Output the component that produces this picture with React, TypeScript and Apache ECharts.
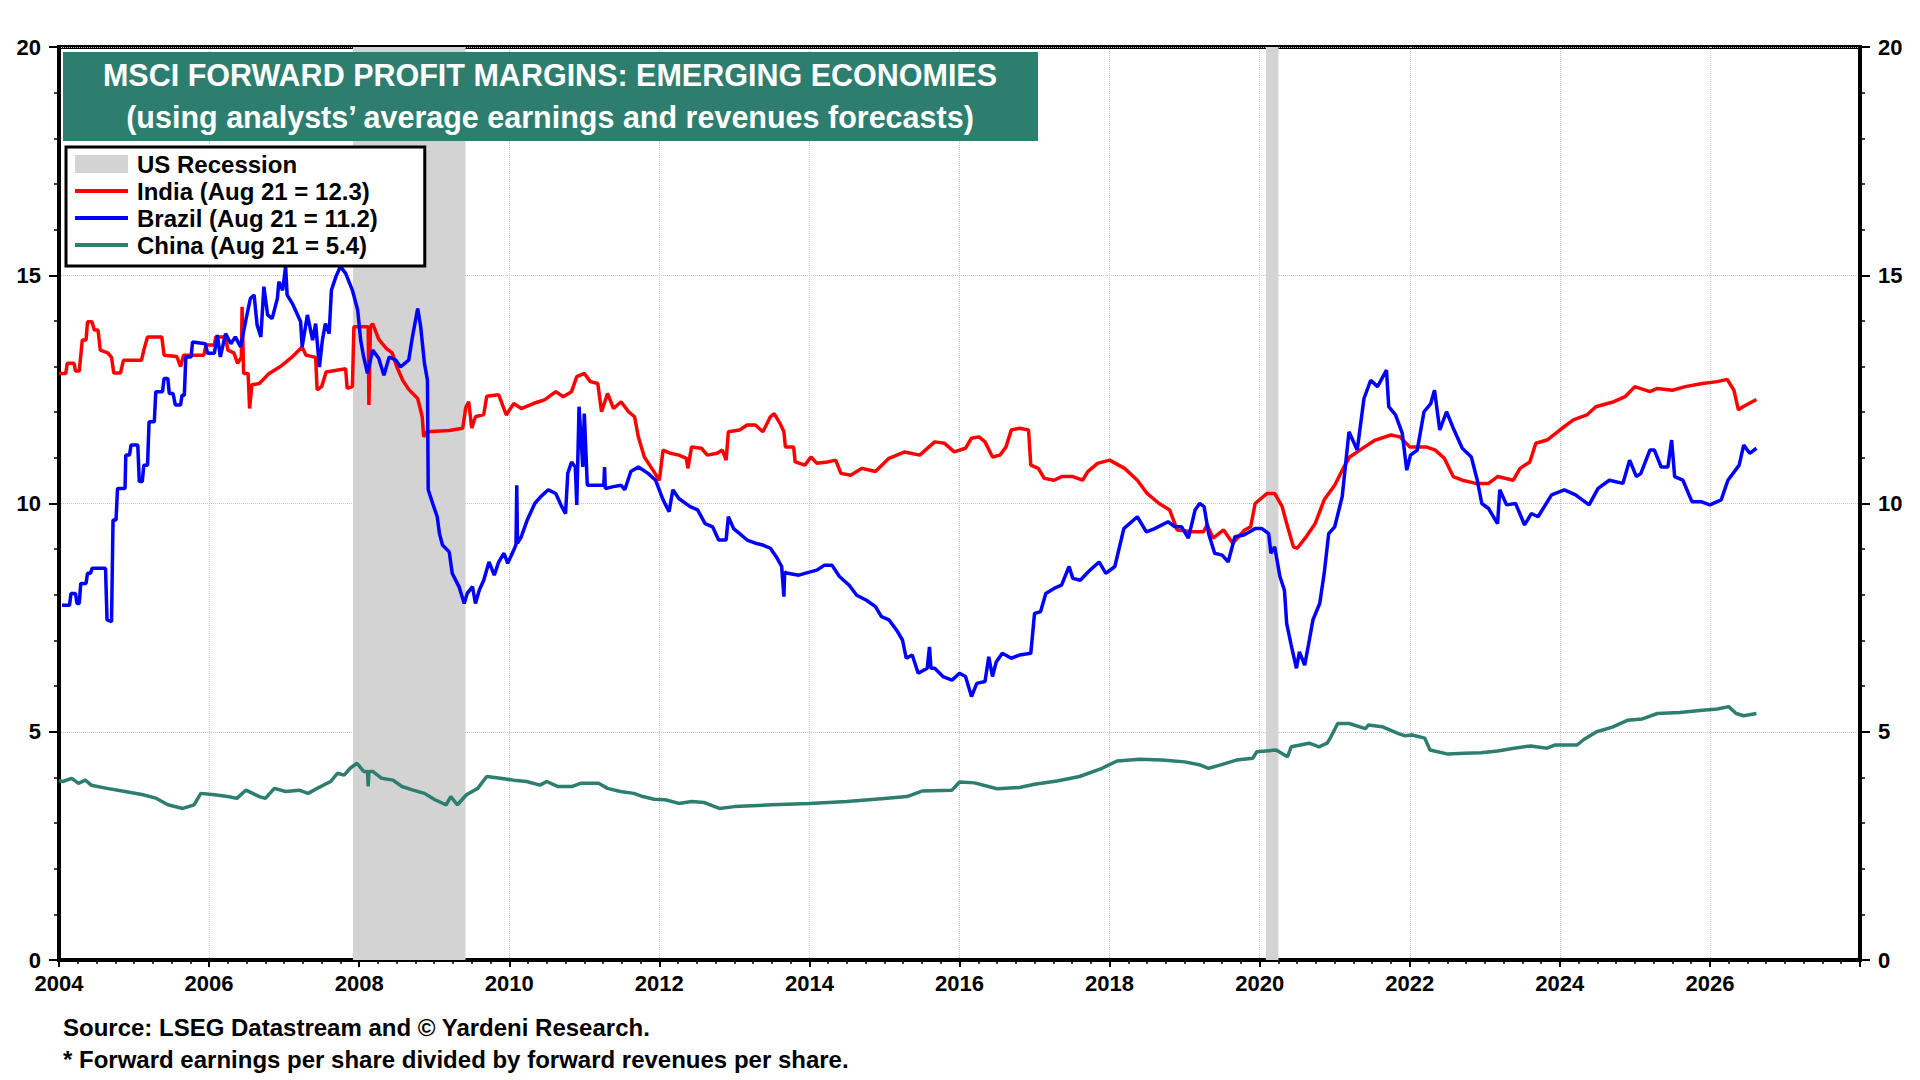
import { useEffect, useRef } from "react";
import * as echarts from "echarts";

const FONT = '"Liberation Sans", Arial, sans-serif';
const TEAL = "#2e7e6f";

// [decimal year, forward profit margin %]
const india: number[][] = [
  [2004.0, 12.85], [2004.09, 12.85], [2004.11, 13.07], [2004.2, 13.07], [2004.22, 12.9], [2004.27, 12.9],
  [2004.31, 13.58], [2004.36, 13.58], [2004.38, 13.98], [2004.44, 13.98], [2004.47, 13.8], [2004.52, 13.8],
  [2004.55, 13.36], [2004.65, 13.3], [2004.7, 13.2], [2004.73, 12.86], [2004.82, 12.86], [2004.86, 13.14],
  [2005.1, 13.14], [2005.13, 13.36], [2005.18, 13.65], [2005.37, 13.65], [2005.4, 13.25], [2005.57, 13.22],
  [2005.62, 13.0], [2005.66, 13.25], [2005.93, 13.25], [2005.96, 13.47], [2006.07, 13.47], [2006.09, 13.65],
  [2006.22, 13.65], [2006.25, 13.36], [2006.33, 13.3], [2006.38, 13.07], [2006.43, 13.2], [2006.44, 14.31],
  [2006.46, 12.85], [2006.52, 12.85], [2006.54, 12.08], [2006.57, 12.6], [2006.67, 12.63], [2006.8, 12.85],
  [2006.95, 13.0], [2007.1, 13.2], [2007.24, 13.43], [2007.29, 13.25], [2007.42, 13.2], [2007.44, 12.49],
  [2007.5, 12.56], [2007.56, 12.88], [2007.82, 12.95], [2007.84, 12.52], [2007.91, 12.56], [2007.93, 13.87],
  [2008.12, 13.87], [2008.13, 12.16], [2008.15, 13.87], [2008.18, 13.94], [2008.26, 13.6], [2008.36, 13.4],
  [2008.44, 13.3], [2008.5, 13.0], [2008.58, 12.7], [2008.66, 12.5], [2008.78, 12.3], [2008.84, 11.9],
  [2008.86, 11.46], [2008.9, 11.57], [2009.2, 11.6], [2009.38, 11.65], [2009.42, 12.1], [2009.46, 12.23],
  [2009.5, 11.65], [2009.55, 11.9], [2009.66, 11.95], [2009.7, 12.35], [2009.86, 12.38], [2009.96, 11.94],
  [2010.06, 12.19], [2010.16, 12.08], [2010.32, 12.19], [2010.47, 12.27], [2010.62, 12.45], [2010.72, 12.34],
  [2010.83, 12.45], [2010.9, 12.78], [2011.0, 12.85], [2011.08, 12.67], [2011.18, 12.63], [2011.23, 12.01],
  [2011.31, 12.41], [2011.39, 12.08], [2011.49, 12.23], [2011.59, 12.01], [2011.67, 11.9], [2011.72, 11.46],
  [2011.8, 11.02], [2011.9, 10.77], [2012.0, 10.51], [2012.05, 11.17], [2012.15, 11.1], [2012.26, 11.06],
  [2012.36, 10.99], [2012.38, 10.77], [2012.43, 11.24], [2012.56, 11.21], [2012.64, 11.06], [2012.77, 11.1],
  [2012.84, 11.17], [2012.89, 10.95], [2012.92, 11.57], [2013.07, 11.61], [2013.17, 11.72], [2013.28, 11.72],
  [2013.38, 11.57], [2013.48, 11.9], [2013.53, 11.97], [2013.61, 11.75], [2013.66, 11.57], [2013.68, 11.24],
  [2013.79, 11.24], [2013.81, 10.91], [2013.94, 10.84], [2014.02, 11.02], [2014.1, 10.88], [2014.24, 10.91],
  [2014.35, 10.95], [2014.42, 10.66], [2014.55, 10.62], [2014.7, 10.77], [2014.88, 10.7], [2015.06, 10.99],
  [2015.27, 11.13], [2015.47, 11.06], [2015.67, 11.35], [2015.8, 11.32], [2015.93, 11.13], [2016.08, 11.21],
  [2016.16, 11.43], [2016.26, 11.46], [2016.34, 11.35], [2016.44, 11.02], [2016.54, 11.06], [2016.62, 11.24],
  [2016.69, 11.61], [2016.8, 11.65], [2016.92, 11.61], [2016.95, 10.84], [2017.05, 10.77], [2017.13, 10.55],
  [2017.26, 10.51], [2017.36, 10.59], [2017.51, 10.59], [2017.64, 10.51], [2017.71, 10.7], [2017.84, 10.88],
  [2018.0, 10.95], [2018.2, 10.77], [2018.37, 10.51], [2018.5, 10.22], [2018.66, 10.0], [2018.8, 9.86],
  [2018.9, 9.42], [2019.1, 9.38], [2019.25, 9.38], [2019.3, 9.53], [2019.38, 9.24], [2019.52, 9.42],
  [2019.64, 9.13], [2019.8, 9.42], [2019.88, 9.49], [2019.94, 10.0], [2020.1, 10.22], [2020.2, 10.22],
  [2020.3, 9.93], [2020.36, 9.56], [2020.45, 9.05], [2020.5, 9.02], [2020.62, 9.27], [2020.74, 9.56],
  [2020.86, 10.08], [2021.0, 10.4], [2021.1, 10.73], [2021.2, 11.02], [2021.4, 11.24], [2021.54, 11.39],
  [2021.75, 11.5], [2021.87, 11.46], [2022.0, 11.24], [2022.22, 11.24], [2022.34, 11.17], [2022.46, 10.99],
  [2022.58, 10.59], [2022.7, 10.51], [2022.88, 10.44], [2023.05, 10.44], [2023.17, 10.59], [2023.38, 10.51],
  [2023.47, 10.77], [2023.6, 10.91], [2023.68, 11.32], [2023.83, 11.39], [2024.0, 11.61], [2024.18, 11.83],
  [2024.36, 11.94], [2024.48, 12.12], [2024.72, 12.23], [2024.87, 12.34], [2025.0, 12.56], [2025.2, 12.45],
  [2025.3, 12.52], [2025.5, 12.48], [2025.67, 12.56], [2025.9, 12.63], [2026.1, 12.67], [2026.23, 12.72],
  [2026.32, 12.48], [2026.38, 12.05], [2026.44, 12.12], [2026.62, 12.28],
];

const brazil: number[][] = [
  [2004.04, 7.77], [2004.14, 7.77], [2004.16, 8.03], [2004.22, 8.03], [2004.24, 7.81], [2004.27, 7.81],
  [2004.29, 8.25], [2004.36, 8.25], [2004.38, 8.47], [2004.42, 8.47], [2004.44, 8.58], [2004.62, 8.58],
  [2004.64, 7.45], [2004.7, 7.41], [2004.72, 9.64], [2004.76, 9.64], [2004.78, 10.33], [2004.88, 10.33],
  [2004.89, 11.06], [2004.94, 11.06], [2004.96, 11.28], [2005.05, 11.28], [2005.07, 10.48], [2005.11, 10.48],
  [2005.13, 10.84], [2005.18, 10.84], [2005.2, 11.79], [2005.27, 11.79], [2005.29, 12.45], [2005.38, 12.45],
  [2005.4, 12.74], [2005.45, 12.74], [2005.47, 12.41], [2005.52, 12.41], [2005.55, 12.16], [2005.62, 12.16],
  [2005.64, 12.37], [2005.67, 12.37], [2005.69, 13.21], [2005.76, 13.21], [2005.78, 13.54], [2005.95, 13.5],
  [2005.98, 13.29], [2006.07, 13.29], [2006.11, 13.69], [2006.15, 13.21], [2006.22, 13.72], [2006.29, 13.5],
  [2006.35, 13.65], [2006.42, 13.43], [2006.49, 14.02], [2006.55, 14.49], [2006.6, 14.57], [2006.64, 13.91],
  [2006.69, 13.65], [2006.73, 14.75], [2006.78, 14.13], [2006.84, 14.05], [2006.91, 14.49], [2006.93, 14.86],
  [2006.98, 14.67], [2007.02, 15.19], [2007.04, 14.57], [2007.11, 14.38], [2007.18, 14.13], [2007.22, 13.98],
  [2007.24, 13.43], [2007.31, 14.13], [2007.38, 13.58], [2007.42, 13.94], [2007.47, 12.99], [2007.51, 13.58],
  [2007.55, 13.94], [2007.6, 13.72], [2007.63, 14.67], [2007.69, 14.97], [2007.75, 15.19], [2007.82, 15.04],
  [2007.91, 14.67], [2007.98, 14.24], [2008.02, 13.58], [2008.06, 13.21], [2008.11, 12.85], [2008.18, 13.36],
  [2008.26, 13.18], [2008.33, 12.81], [2008.4, 13.21], [2008.49, 13.14], [2008.55, 12.99], [2008.66, 13.14],
  [2008.71, 13.65], [2008.78, 14.27], [2008.82, 13.87], [2008.87, 13.07], [2008.91, 12.7], [2008.92, 10.3],
  [2008.98, 10.0], [2009.04, 9.71], [2009.07, 9.34], [2009.11, 9.09], [2009.2, 8.94], [2009.24, 8.47],
  [2009.33, 8.18], [2009.4, 7.81], [2009.44, 8.03], [2009.51, 8.18], [2009.55, 7.81], [2009.6, 8.1],
  [2009.66, 8.32], [2009.73, 8.72], [2009.8, 8.43], [2009.86, 8.72], [2009.93, 8.91], [2009.98, 8.69],
  [2010.06, 8.98], [2010.09, 9.1], [2010.1, 10.4], [2010.11, 9.13], [2010.16, 9.27], [2010.24, 9.64],
  [2010.34, 10.0], [2010.42, 10.15], [2010.52, 10.3], [2010.62, 10.22], [2010.7, 9.93], [2010.75, 9.78],
  [2010.78, 10.66], [2010.83, 10.91], [2010.88, 10.8], [2010.9, 9.97], [2010.93, 12.12], [2010.98, 10.8],
  [2011.0, 11.97], [2011.04, 10.4], [2011.18, 10.4], [2011.26, 10.4], [2011.27, 10.8], [2011.28, 10.33],
  [2011.39, 10.37], [2011.49, 10.4], [2011.54, 10.3], [2011.62, 10.7], [2011.72, 10.8], [2011.85, 10.66],
  [2011.95, 10.51], [2012.05, 10.08], [2012.13, 9.82], [2012.18, 10.3], [2012.26, 10.11], [2012.41, 9.93],
  [2012.51, 9.86], [2012.61, 9.56], [2012.71, 9.49], [2012.79, 9.2], [2012.89, 9.2], [2012.92, 9.71],
  [2012.99, 9.45], [2013.07, 9.34], [2013.17, 9.2], [2013.28, 9.13], [2013.38, 9.09], [2013.48, 9.02],
  [2013.56, 8.83], [2013.63, 8.62], [2013.66, 7.96], [2013.67, 8.5], [2013.71, 8.47], [2013.86, 8.43],
  [2013.94, 8.47], [2014.1, 8.54], [2014.2, 8.65], [2014.3, 8.65], [2014.4, 8.4], [2014.53, 8.21],
  [2014.63, 7.99], [2014.76, 7.88], [2014.88, 7.74], [2014.96, 7.52], [2015.06, 7.45], [2015.16, 7.23],
  [2015.24, 7.01], [2015.29, 6.61], [2015.37, 6.68], [2015.45, 6.28], [2015.57, 6.39], [2015.6, 6.86],
  [2015.62, 6.39], [2015.67, 6.39], [2015.78, 6.21], [2015.9, 6.13], [2016.0, 6.28], [2016.08, 6.21],
  [2016.16, 5.77], [2016.23, 6.06], [2016.34, 6.1], [2016.39, 6.64], [2016.44, 6.21], [2016.49, 6.53],
  [2016.57, 6.72], [2016.69, 6.61], [2016.8, 6.68], [2016.95, 6.72], [2017.0, 7.59], [2017.08, 7.63],
  [2017.15, 8.03], [2017.26, 8.14], [2017.36, 8.21], [2017.46, 8.62], [2017.51, 8.36], [2017.61, 8.32],
  [2017.72, 8.51], [2017.86, 8.72], [2017.95, 8.47], [2018.07, 8.62], [2018.19, 9.45], [2018.37, 9.71],
  [2018.49, 9.38], [2018.6, 9.45], [2018.78, 9.6], [2018.87, 9.49], [2018.96, 9.49], [2019.05, 9.24],
  [2019.14, 9.86], [2019.2, 10.0], [2019.26, 9.93], [2019.32, 9.34], [2019.4, 8.91], [2019.5, 8.87],
  [2019.58, 8.72], [2019.67, 9.27], [2019.79, 9.31], [2019.94, 9.45], [2020.03, 9.45], [2020.12, 9.34],
  [2020.15, 8.91], [2020.2, 9.05], [2020.27, 8.4], [2020.33, 8.1], [2020.36, 7.37], [2020.42, 6.9],
  [2020.49, 6.39], [2020.53, 6.75], [2020.6, 6.46], [2020.65, 6.9], [2020.71, 7.45], [2020.8, 7.81],
  [2020.86, 8.47], [2020.92, 9.34], [2021.0, 9.49], [2021.1, 10.15], [2021.19, 11.57], [2021.3, 11.17],
  [2021.39, 12.3], [2021.48, 12.7], [2021.57, 12.56], [2021.69, 12.92], [2021.72, 12.12], [2021.81, 11.94],
  [2021.9, 11.54], [2021.96, 10.73], [2022.01, 11.06], [2022.1, 11.17], [2022.19, 12.01], [2022.28, 12.19],
  [2022.33, 12.48], [2022.4, 11.61], [2022.49, 12.01], [2022.58, 11.65], [2022.7, 11.21], [2022.82, 11.02],
  [2022.9, 10.51], [2022.96, 10.0], [2023.05, 9.89], [2023.17, 9.56], [2023.2, 10.3], [2023.29, 9.97],
  [2023.41, 10.0], [2023.53, 9.53], [2023.62, 9.78], [2023.71, 9.71], [2023.89, 10.19], [2024.06, 10.3],
  [2024.21, 10.19], [2024.39, 9.97], [2024.51, 10.33], [2024.66, 10.51], [2024.84, 10.44], [2024.93, 10.95],
  [2025.02, 10.59], [2025.08, 10.66], [2025.2, 11.17], [2025.26, 11.17], [2025.35, 10.8], [2025.44, 10.8],
  [2025.49, 11.39], [2025.53, 10.59], [2025.64, 10.51], [2025.76, 10.04], [2025.88, 10.04], [2026.0, 9.97],
  [2026.15, 10.08], [2026.24, 10.51], [2026.39, 10.84], [2026.45, 11.28], [2026.53, 11.1], [2026.62, 11.21],
];

const china: number[][] = [
  [2004.0, 3.93], [2004.05, 3.91], [2004.17, 3.98], [2004.26, 3.87], [2004.35, 3.94], [2004.43, 3.83],
  [2004.64, 3.76], [2004.88, 3.69], [2005.12, 3.62], [2005.3, 3.54], [2005.45, 3.4], [2005.65, 3.32],
  [2005.8, 3.4], [2005.89, 3.65], [2006.07, 3.62], [2006.25, 3.58], [2006.37, 3.54], [2006.49, 3.72],
  [2006.67, 3.58], [2006.75, 3.54], [2006.87, 3.76], [2007.02, 3.69], [2007.2, 3.72], [2007.32, 3.65],
  [2007.44, 3.76], [2007.62, 3.91], [2007.71, 4.09], [2007.8, 4.05], [2007.88, 4.2], [2007.97, 4.31],
  [2008.06, 4.13], [2008.11, 4.13], [2008.12, 3.8], [2008.13, 4.13], [2008.18, 4.13], [2008.3, 3.98],
  [2008.45, 3.94], [2008.57, 3.8], [2008.72, 3.72], [2008.87, 3.65], [2009.01, 3.51], [2009.16, 3.4],
  [2009.22, 3.58], [2009.31, 3.4], [2009.43, 3.62], [2009.58, 3.76], [2009.7, 4.02], [2009.88, 3.98],
  [2010.06, 3.94], [2010.23, 3.91], [2010.41, 3.83], [2010.5, 3.91], [2010.65, 3.8], [2010.83, 3.8],
  [2010.95, 3.87], [2011.19, 3.87], [2011.31, 3.76], [2011.48, 3.69], [2011.66, 3.65], [2011.78, 3.58],
  [2011.93, 3.52], [2012.08, 3.51], [2012.26, 3.43], [2012.43, 3.47], [2012.6, 3.45], [2012.8, 3.32],
  [2013.0, 3.36], [2013.5, 3.4], [2014.0, 3.43], [2014.5, 3.47], [2015.0, 3.54], [2015.3, 3.58],
  [2015.5, 3.7], [2015.9, 3.72], [2016.0, 3.9], [2016.2, 3.88], [2016.5, 3.75], [2016.8, 3.78],
  [2017.0, 3.85], [2017.3, 3.92], [2017.6, 4.02], [2017.9, 4.2], [2018.1, 4.36], [2018.4, 4.4],
  [2018.7, 4.38], [2019.0, 4.34], [2019.21, 4.27], [2019.32, 4.2], [2019.47, 4.27], [2019.69, 4.38],
  [2019.91, 4.42], [2019.96, 4.56], [2020.22, 4.6], [2020.37, 4.45], [2020.42, 4.67], [2020.66, 4.75],
  [2020.79, 4.67], [2020.9, 4.75], [2020.95, 4.89], [2021.04, 5.18], [2021.19, 5.18], [2021.41, 5.07],
  [2021.45, 5.15], [2021.63, 5.11], [2021.85, 4.96], [2021.94, 4.91], [2022.03, 4.93], [2022.2, 4.86],
  [2022.27, 4.6], [2022.51, 4.51], [2022.73, 4.53], [2022.95, 4.54], [2023.17, 4.58], [2023.39, 4.64],
  [2023.61, 4.69], [2023.83, 4.64], [2023.94, 4.71], [2024.23, 4.71], [2024.32, 4.83], [2024.49, 5.0],
  [2024.7, 5.1], [2024.9, 5.25], [2025.1, 5.28], [2025.3, 5.4], [2025.6, 5.42], [2025.9, 5.47],
  [2026.1, 5.5], [2026.25, 5.55], [2026.35, 5.4], [2026.45, 5.35], [2026.62, 5.4],
];

// US recessions: Dec 2007 - Jun 2009, Feb 2020 - Apr 2020
const recessionStarts = [2007.917, 2020.083];
const recessionEnds = [2009.417, 2020.25];

const seriesNames = [
  "US Recession",
  "India (Aug 21 = 12.3)",
  "Brazil (Aug 21 = 11.2)",
  "China (Aug 21 = 5.4)",
];

const yTicks = { min: 0, max: 20, interval: 5 };
const xTicks = { min: 2004, max: 2028, interval: 2 };

const titleLines = [
  "MSCI FORWARD PROFIT MARGINS: EMERGING ECONOMIES",
  "(using analysts’ average earnings and revenues forecasts)",
];
const footnotes = [
  "Source: LSEG Datastream and © Yardeni Research.",
  "* Forward earnings per share divided by forward revenues per share.",
];

// thin bar used as the legend swatch of a line
const LINE_ICON = "path://M0 0H53V4H0Z";

function valueAxis(position: "left" | "right") {
  return {
    type: "value" as const,
    position,
    ...yTicks,
    axisLine: { show: true, lineStyle: { color: "#000", width: 4 } },
    axisTick: { show: true, length: 10, lineStyle: { color: "#000", width: 2 } },
    minorTick: { show: true, splitNumber: 5, length: 5, lineStyle: { color: "#000", width: 1.5 } },
    axisLabel: { margin: 18, color: "#000", fontSize: 22, fontWeight: "bold", fontFamily: FONT },
    splitLine: {
      show: position === "left",
      lineStyle: { type: "dotted", color: "#c4c4c4", width: 1 },
    },
  };
}

export default function App() {
  const chartRef = useRef<HTMLDivElement>(null);

  useEffect(() => {
    if (!chartRef.current) return;
    const chart = echarts.init(chartRef.current, null, { renderer: "svg" });

    const lineSeries = (name: string, data: number[][], color: string) => ({
      name,
      type: "line" as const,
      data,
      symbol: "none",
      z: 3,
      color,
      lineStyle: { color, width: 3.5 },
    });

    chart.setOption({
      animation: false,
      backgroundColor: "#fff",
      grid: {
        left: 59,
        right: 60,
        top: 47,
        bottom: 120,
        show: true,
        borderColor: "#000",
        borderWidth: 4,
      },
      xAxis: {
        type: "value",
        ...xTicks,
        axisLine: { show: true, lineStyle: { color: "#000", width: 4 } },
        axisTick: { show: true, length: 7, lineStyle: { color: "#000", width: 2 } },
        minorTick: { show: true, splitNumber: 8, length: 4, lineStyle: { color: "#000", width: 1.5 } },
        axisLabel: {
          margin: 12,
          color: "#000",
          fontSize: 22,
          fontWeight: "bold",
          fontFamily: FONT,
          formatter: (v: number) => (v >= xTicks.max ? "" : String(v)),
        },
        splitLine: { show: true, lineStyle: { type: "dotted", color: "#c4c4c4", width: 1 } },
      },
      yAxis: [valueAxis("left"), valueAxis("right")],
      legend: {
        orient: "vertical",
        left: 66,
        top: 147,
        backgroundColor: "#fff",
        borderColor: "#000",
        borderWidth: 3,
        borderRadius: 0,
        padding: [5, 47, 9, 9],
        itemGap: 3,
        itemWidth: 53,
        itemHeight: 18,
        textStyle: {
          fontSize: 24,
          lineHeight: 24,
          fontWeight: "bold",
          color: "#000",
          fontFamily: FONT,
          padding: [0, 0, 0, 4],
        },
        data: [
          { name: seriesNames[0], icon: "rect" },
          { name: seriesNames[1], icon: LINE_ICON },
          { name: seriesNames[2], icon: LINE_ICON },
          { name: seriesNames[3], icon: LINE_ICON },
        ],
      },
      graphic: [
        {
          type: "rect",
          z: 100,
          shape: { x: 63, y: 52, width: 975, height: 89 },
          style: { fill: TEAL },
        },
        ...titleLines.map((t, i) => ({
          type: "text",
          z: 101,
          x: 550,
          y: i === 0 ? 75 : 117,
          style: {
            text: t,
            fill: "#fff",
            font: `bold 30.5px ${FONT}`,
            textAlign: "center",
            textVerticalAlign: "middle",
            verticalAlign: "middle",
          },
        })),
        ...footnotes.map((t, i) => ({
          type: "text",
          z: 101,
          x: 63,
          y: i === 0 ? 1027 : 1059,
          style: {
            text: t,
            fill: "#000",
            font: `bold 24px ${FONT}`,
            textAlign: "left",
            textVerticalAlign: "middle",
            verticalAlign: "middle",
          },
        })),
      ],
      series: [
        {
          name: seriesNames[0],
          type: "line",
          data: [],
          color: "#d3d3d3",
          itemStyle: { color: "#d3d3d3" },
          markArea: {
            silent: true,
            itemStyle: { color: "#d3d3d3" },
            data: recessionStarts.map((s, i) => [{ xAxis: s }, { xAxis: recessionEnds[i] }]),
          },
        },
        lineSeries(seriesNames[1], india, "#ff0000"),
        lineSeries(seriesNames[2], brazil, "#0000ff"),
        lineSeries(seriesNames[3], china, TEAL),
      ],
    });

    return () => {
      chart.dispose();
    };
  }, []);

  return (
    <div
      ref={chartRef}
      style={{ position: "fixed", left: 0, top: 0, width: 1920, height: 1080, background: "#fff" }}
    />
  );
}
